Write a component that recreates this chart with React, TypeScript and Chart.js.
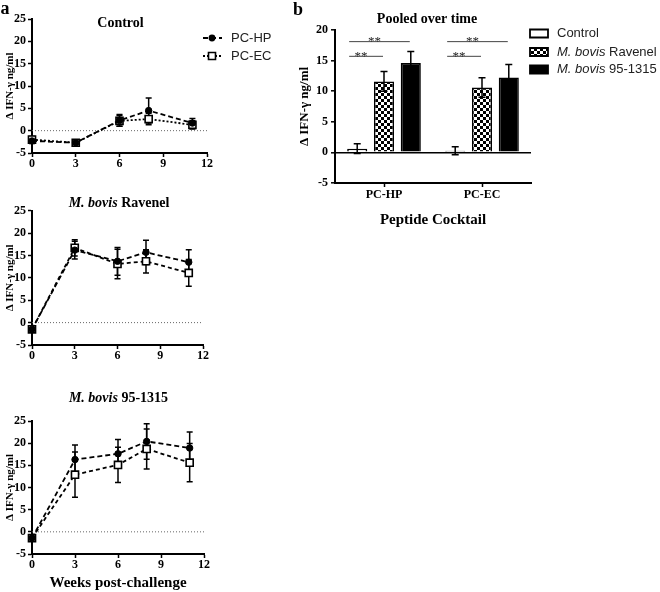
import React, { useEffect, useRef } from 'react';
import { Chart, registerables } from 'chart.js';
Chart.register(...registerables);

const SERIF = '"Liberation Serif", "Times New Roman", serif';
const SANS = '"Liberation Sans", Arial, sans-serif';

// ---------- Panel a data (weeks post-challenge) ----------
const weeks = [0, 3, 6, 8, 11];
const yLabel = 'Δ IFN-γ ng/ml';

const controlHP = [-2.3, -2.7, 2.3, 4.5, 1.7];
const controlHPErr = [0.6, 0.3, 1.3, 2.8, 1.0];
const controlEC = [-2.0, -2.7, 2.2, 2.6, 1.3];
const controlECErr = [0.7, 0.3, 1.2, 1.3, 0.9];

const ravenelHP = [-1.5, 16.2, 13.7, 15.7, 13.5];
const ravenelHPErr = [0.3, 2.0, 3.1, 2.7, 2.8];
const ravenelEC = [-1.5, 16.7, 13.1, 13.7, 11.1];
const ravenelECErr = [0.3, 1.8, 3.3, 2.6, 3.0];

const m95HP = [-1.4, 16.3, 17.6, 20.4, 18.9];
const m95HPErr = [0.3, 3.3, 3.2, 4.0, 3.6];
const m95EC = [-1.4, 12.9, 15.1, 18.7, 15.6];
const m95ECErr = [0.3, 5.1, 4.0, 4.5, 4.3];

// ---------- Panel b data (pooled) ----------
const cocktails = ['PC-HP', 'PC-EC'];
const pooledControl = [0.6, 0.28];
const pooledControlErr = [0.8, 0.65];
const pooledRavenel = [11.6, 10.6];
const pooledRavenelErr = [1.6, 1.6];
const pooled95 = [14.6, 12.25];
const pooled95Err = [1.9, 2.1];
// significance brackets: category index, from dataset, to dataset, level
const sigCats = [0, 0, 1, 1];
const sigTo = [2, 1, 2, 1];
const sigLevel = [18.1, 15.7, 18.1, 15.7];
const sigText = ['**', '**', '**', '**'];

type Seg = { t: string; f: string };

function drawSegs(ctx: CanvasRenderingContext2D, segs: Seg[], x: number, y: number, align: 'center' | 'left', color = '#000') {
  ctx.save();
  ctx.textBaseline = 'middle';
  ctx.textAlign = 'left';
  ctx.fillStyle = color;
  let total = 0;
  for (const s of segs) { ctx.font = s.f; total += ctx.measureText(s.t).width; }
  let cx = align === 'center' ? x - total / 2 : x;
  for (const s of segs) { ctx.font = s.f; ctx.fillText(s.t, cx, y); cx += ctx.measureText(s.t).width; }
  ctx.restore();
}

const errorBarPlugin = {
  id: 'errorBars',
  _draw(chart: any) {
    const ctx = chart.ctx as CanvasRenderingContext2D;
    const yScale = chart.scales.y;
    chart.data.datasets.forEach((ds: any, di: number) => {
      const errs: number[] | undefined = ds.errors;
      if (!errs) return;
      const meta = chart.getDatasetMeta(di);
      const cap = ds.errorCap ?? 3;
      ctx.save();
      ctx.strokeStyle = '#000';
      ctx.lineWidth = 1.5;
      ctx.setLineDash([]);
      meta.data.forEach((el: any, i: number) => {
        const raw = ds.data[i];
        const val = typeof raw === 'number' ? raw : raw.y;
        const e = errs[i];
        if (!e) return;
        const x = el.x;
        const yTop = yScale.getPixelForValue(val + e);
        const yBot = yScale.getPixelForValue(val - e);
        ctx.beginPath();
        ctx.moveTo(x, yTop); ctx.lineTo(x, yBot);
        ctx.moveTo(x - cap, yTop); ctx.lineTo(x + cap, yTop);
        ctx.moveTo(x - cap, yBot); ctx.lineTo(x + cap, yBot);
        ctx.stroke();
      });
      ctx.restore();
    });
  },
  beforeDatasetsDraw(chart: any) { if (chart.config.type === 'line') (errorBarPlugin as any)._draw(chart); },
  afterDatasetsDraw(chart: any) { if (chart.config.type === 'bar') (errorBarPlugin as any)._draw(chart); },
};

function decor(fn: (ctx: CanvasRenderingContext2D, chart: any) => void) {
  return { id: 'decor', afterDraw(chart: any) { fn(chart.ctx, chart); } };
}

const tickFont = { family: SERIF, weight: 'bold' as const, size: 12 };

function lineConfig(p: {
  hp: number[]; hpErr: number[]; ec: number[]; ecErr: number[]; ecDash: number[];
  padTop: number; padRight: number; xh: number; xTitle?: string;
  draw: (ctx: CanvasRenderingContext2D, chart: any) => void;
}): any {
  return {
    type: 'line',
    data: {
      datasets: [
        {
          label: 'PC-HP', data: weeks.map((w, i) => ({ x: w, y: p.hp[i] })), errors: p.hpErr,
          borderColor: '#000', borderWidth: 1.8, borderDash: [5, 3], pointStyle: 'circle', pointRadius: 3.2,
          pointBackgroundColor: '#000', pointBorderColor: '#000', pointBorderWidth: 1, tension: 0, fill: false, clip: false,
        },
        {
          label: 'PC-EC', data: weeks.map((w, i) => ({ x: w, y: p.ec[i] })), errors: p.ecErr,
          borderColor: '#000', borderWidth: 1.8, borderDash: p.ecDash, pointStyle: 'rect', pointRadius: 5,
          pointBackgroundColor: '#fff', pointBorderColor: '#000', pointBorderWidth: 1.6, tension: 0, fill: false, clip: false,
        },
        {
          label: 'zero', data: [{ x: 0, y: 0 }, { x: 12, y: 0 }], borderColor: '#666', borderWidth: 1,
          borderDash: [1, 2], pointRadius: 0, fill: false,
        },
      ],
    },
    options: {
      responsive: false, animation: false,
      layout: { padding: { left: 0, top: p.padTop, right: p.padRight, bottom: 0 } },
      plugins: { legend: { display: false }, title: { display: false }, tooltip: { enabled: false } },
      scales: {
        x: {
          type: 'linear', min: 0, max: 12,
          ticks: { stepSize: 3, font: tickFont, color: '#000', padding: 0 },
          grid: { drawOnChartArea: false, tickLength: 4, tickColor: '#000', tickWidth: 1.5 },
          border: { color: '#000', width: 2 },
          title: p.xTitle
            ? { display: true, text: p.xTitle, color: '#000', font: { family: SERIF, weight: 'bold', size: 15 }, padding: { top: 0, bottom: 0 } }
            : { display: false },
          afterFit: (s: any) => { s.height = p.xh; },
        },
        y: {
          min: -5, max: 25,
          ticks: { stepSize: 5, font: tickFont, color: '#000', padding: 2 },
          grid: { drawOnChartArea: false, tickLength: 4, tickColor: '#000', tickWidth: 1.5 },
          border: { color: '#000', width: 2 },
          title: { display: true, text: yLabel, color: '#000', font: { family: SERIF, weight: 'bold', size: 11 }, padding: { top: 3.4, bottom: 0 } },
          afterFit: (s: any) => { s.width = 32; },
        },
      },
    },
    plugins: [errorBarPlugin, decor(p.draw)],
  };
}

function makeChecker(): any {
  const c = document.createElement('canvas');
  c.width = 6; c.height = 6;
  const g = c.getContext('2d')!;
  g.fillStyle = '#fff'; g.fillRect(0, 0, 6, 6);
  g.fillStyle = '#000'; g.fillRect(0, 0, 3, 3); g.fillRect(3, 3, 3, 3);
  return g.createPattern(c, 'repeat');
}

function barConfig(): any {
  const checker = makeChecker();
  return {
    type: 'bar',
    data: {
      labels: cocktails,
      datasets: [
        { label: 'Control', data: pooledControl, errors: pooledControlErr, errorCap: 3.5, backgroundColor: '#fff', borderColor: '#000', borderWidth: 1.6 },
        { label: 'M. bovis Ravenel', data: pooledRavenel, errors: pooledRavenelErr, errorCap: 3.5, backgroundColor: checker, borderColor: '#000', borderWidth: 1.6 },
        { label: 'M. bovis 95-1315', data: pooled95, errors: pooled95Err, errorCap: 3.5, backgroundColor: '#000', borderColor: '#000', borderWidth: 1.6 },
      ],
    },
    options: {
      responsive: false, animation: false,
      categoryPercentage: 0.82, barPercentage: 0.75,
      layout: { padding: { left: 55, top: 30, right: 129, bottom: 11 } },
      plugins: { legend: { display: false }, title: { display: false }, tooltip: { enabled: false } },
      scales: {
        x: {
          ticks: { font: tickFont, color: '#000', padding: 1 },
          grid: { drawOnChartArea: false, offset: false, tickLength: 4, tickColor: '#000', tickWidth: 1.5 },
          border: { color: '#000', width: 2 },
          title: { display: true, text: 'Peptide Cocktail', color: '#000', font: { family: SERIF, weight: 'bold', size: 15 }, padding: { top: 0, bottom: 0 } },
          afterFit: (s: any) => { s.height = 46; },
        },
        y: {
          min: -5, max: 20,
          ticks: { stepSize: 5, font: tickFont, color: '#000', padding: 3 },
          grid: {
            drawOnChartArea: true, tickLength: 4, tickColor: '#000', tickWidth: 1.5, lineWidth: 1.6,
            color: (c: any) => (c.tick && c.tick.value === 0 ? '#000' : 'rgba(0,0,0,0)'),
          },
          border: { color: '#000', width: 2 },
          title: { display: true, text: yLabel, color: '#000', font: { family: SERIF, weight: 'bold', size: 13 }, padding: { top: 2.2, bottom: 0 } },
          afterFit: (s: any) => { s.width = 40; },
        },
      },
    },
    plugins: [
      errorBarPlugin,
      decor((ctx, chart) => {
        const y = chart.scales.y;
        // significance brackets
        sigCats.forEach((cat, k) => {
          const a = chart.getDatasetMeta(0).data[cat];
          const b = chart.getDatasetMeta(sigTo[k]).data[cat];
          const x0 = a.x - a.width / 2 + 2;
          const x1 = b.x - 1;
          const ly = y.getPixelForValue(sigLevel[k]);
          ctx.save();
          ctx.strokeStyle = '#444'; ctx.lineWidth = 1;
          ctx.beginPath(); ctx.moveTo(x0, ly); ctx.lineTo(x1, ly); ctx.stroke();
          ctx.fillStyle = '#222'; ctx.font = `13px ${SERIF}`; ctx.textAlign = 'center'; ctx.textBaseline = 'alphabetic';
          ctx.fillText(sigText[k], (x0 + x1) / 2 - 5, ly + 3.5);
          ctx.restore();
        });
        // title and panel letter
        drawSegs(ctx, [{ t: 'Pooled over time', f: `bold 14px ${SERIF}` }], 187, 19, 'center');
        ctx.save();
        ctx.font = `bold 18px ${SERIF}`; ctx.fillStyle = '#000'; ctx.textBaseline = 'alphabetic'; ctx.textAlign = 'left';
        ctx.fillText('b', 53, 15);
        ctx.restore();
        // legend
        const items = [
          { fill: '#fff', segs: [{ t: 'Control', f: `13px ${SANS}` }], cy: 33.5 },
          { fill: checker, segs: [{ t: 'M. bovis', f: `italic 13px ${SANS}` }, { t: ' Ravenel', f: `13px ${SANS}` }], cy: 52 },
          { fill: '#000', segs: [{ t: 'M. bovis', f: `italic 13px ${SANS}` }, { t: ' 95-1315', f: `13px ${SANS}` }], cy: 69.5 },
        ];
        items.forEach((it) => {
          ctx.save();
          ctx.fillStyle = it.fill; ctx.strokeStyle = '#000'; ctx.lineWidth = 1.8;
          ctx.beginPath(); ctx.rect(290, it.cy - 4, 18, 8); ctx.fill(); ctx.stroke();
          ctx.restore();
          drawSegs(ctx, it.segs, 317, it.cy, 'left', '#222');
        });
      }),
    ],
  };
}

function ChartBox({ left, top, width, height, build }: { left: number; top: number; width: number; height: number; build: () => any }) {
  const ref = useRef<HTMLCanvasElement>(null);
  useEffect(() => {
    const chart = new Chart(ref.current!, build());
    return () => chart.destroy();
  }, []);
  return (
    <canvas ref={ref} width={width} height={height}
      style={{ position: 'absolute', left, top, width, height }} />
  );
}

const titleFont = `bold 14px ${SERIF}`;
const titleItalic = `italic bold 14px ${SERIF}`;

export default function App() {
  return (
    <div style={{ position: 'absolute', left: 0, top: 0, width: 660, height: 592, background: '#fff', overflow: 'hidden' }}>
      <ChartBox left={0} top={0} width={280} height={180} build={() => lineConfig({
        hp: controlHP, hpErr: controlHPErr, ec: controlEC, ecErr: controlECErr, ecDash: [2, 2],
        padTop: 19, padRight: 73, xh: 27,
        draw: (ctx, chart) => {
          const ca = chart.chartArea;
          drawSegs(ctx, [{ t: 'Control', f: titleFont }], (ca.left + ca.right) / 2 + 1, 23, 'center');
          ctx.save();
          ctx.font = `bold 18px ${SERIF}`; ctx.fillStyle = '#000'; ctx.textBaseline = 'alphabetic'; ctx.textAlign = 'left';
          ctx.fillText('a', 0.5, 13.5);
          // legend
          ctx.strokeStyle = '#000'; ctx.lineWidth = 1.8;
          ctx.setLineDash([5, 3]);
          ctx.beginPath(); ctx.moveTo(203, 38); ctx.lineTo(222, 38); ctx.stroke();
          ctx.setLineDash([2, 2]);
          ctx.beginPath(); ctx.moveTo(203, 56); ctx.lineTo(222, 56); ctx.stroke();
          ctx.setLineDash([]);
          ctx.fillStyle = '#000';
          ctx.beginPath(); ctx.arc(212, 38, 3.4, 0, Math.PI * 2); ctx.fill();
          ctx.fillStyle = '#fff'; ctx.lineWidth = 1.6;
          ctx.beginPath(); ctx.rect(208.5, 52.5, 7, 7); ctx.fill(); ctx.stroke();
          ctx.restore();
          drawSegs(ctx, [{ t: 'PC-HP', f: `13px ${SANS}` }], 231, 38, 'left', '#222');
          drawSegs(ctx, [{ t: 'PC-EC', f: `13px ${SANS}` }], 231, 56, 'left', '#222');
        },
      })} />
      <ChartBox left={0} top={190} width={280} height={175} build={() => lineConfig({
        hp: ravenelHP, hpErr: ravenelHPErr, ec: ravenelEC, ecErr: ravenelECErr, ecDash: [4, 3],
        padTop: 20.7, padRight: 77, xh: 20,
        draw: (ctx, chart) => {
          const ca = chart.chartArea;
          drawSegs(ctx, [{ t: 'M. bovis ', f: titleItalic }, { t: 'Ravenel', f: titleFont }], (ca.left + ca.right) / 2 + 1.5, 13, 'center');
        },
      })} />
      <ChartBox left={0} top={380} width={280} height={212} build={() => lineConfig({
        hp: m95HP, hpErr: m95HPErr, ec: m95EC, ecErr: m95ECErr, ecDash: [4, 3],
        padTop: 41, padRight: 76, xh: 38, xTitle: 'Weeks post-challenge',
        draw: (ctx, chart) => {
          const ca = chart.chartArea;
          drawSegs(ctx, [{ t: 'M. bovis ', f: titleItalic }, { t: '95-1315', f: titleFont }], (ca.left + ca.right) / 2 + 0.5, 18, 'center');
        },
      })} />
      <ChartBox left={240} top={0} width={420} height={240} build={barConfig} />
    </div>
  );
}
